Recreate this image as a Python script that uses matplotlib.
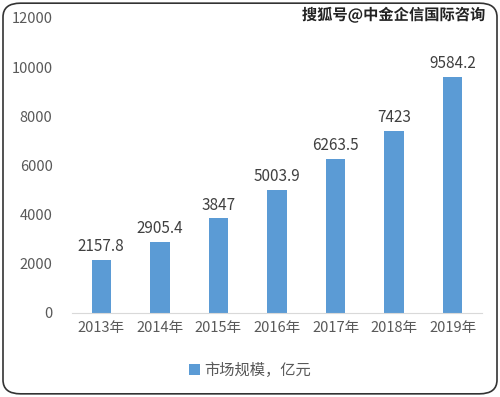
import matplotlib.pyplot as plt
import matplotlib.patheffects as pe
from matplotlib.patches import FancyBboxPatch
import numpy as np

plt.rcParams['font.family'] = ['Noto Sans CJK SC', 'DejaVu Sans']

years = ["2013年", "2014年", "2015年", "2016年", "2017年", "2018年", "2019年"]
market = [2157.8, 2905.4, 3847, 5003.9, 6263.5, 7423, 9584.2]
labels = ["2157.8", "2905.4", "3847", "5003.9", "6263.5", "7423", "9584.2"]

gray = "#595959"
blue = "#5B9BD5"

fig = plt.figure(figsize=(5, 3.97), dpi=100)
ax = fig.add_axes([0.144, 0.2116, 0.82, 0.7431])

x = np.arange(len(years))
bars = ax.bar(x, market, width=0.33, color=blue, label="市场规模，亿元", zorder=2)
for xi, v, t in zip(x, market, labels):
    ax.text(xi, v + 200, t, ha="center", va="bottom", fontsize=11, color="#404040")

ax.set_xlim(-0.5, len(years) - 0.5)
ax.set_ylim(0, 12000)
ax.set_yticks(np.arange(0, 12001, 2000))
ax.set_xticks(x, years)
ax.tick_params(axis="both", length=0, colors=gray, labelsize=10.5)
ax.tick_params(axis="y", pad=14)
ax.tick_params(axis="x", pad=6)
for s in ["top", "right", "left"]:
    ax.spines[s].set_visible(False)
ax.spines["bottom"].set_color("#d9d9d9")

leg = fig.legend(loc="center", bbox_to_anchor=(0.5, 0.068), frameon=False,
                 fontsize=11, handlelength=0.7, handleheight=0.7, handletextpad=0.3)
for t in leg.get_texts():
    t.set_color(gray)

fig.text(0.97, 0.962, "搜狐号@中金企信国际咨询", ha="right", va="center", fontsize=11,
         fontweight="bold", color="#222222",
         path_effects=[pe.withStroke(linewidth=2, foreground="white")])

border = FancyBboxPatch((0.006, 0.008), 0.988, 0.984, boxstyle="round,pad=0,rounding_size=0.035",
                        transform=fig.transFigure, fill=False, edgecolor="#333333", linewidth=1.2)
fig.patches.append(border)

fig.savefig("out.png", dpi=100)
